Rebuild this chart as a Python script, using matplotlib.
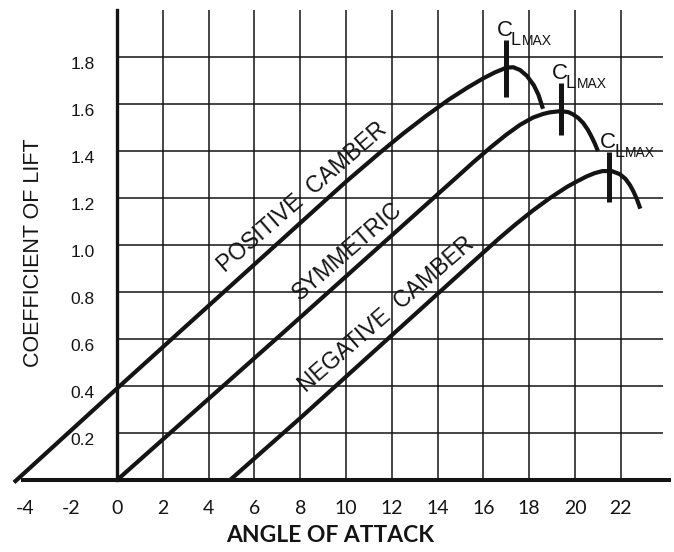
import matplotlib.pyplot as plt
from matplotlib import transforms

# lift curves (angle of attack in degrees, CL)
pos_alpha = [-4.5, 0.0, 5.0, 10.0, 11.5, 12.5, 13.5, 14.5, 15.3, 16.0, 16.5, 17.0, 17.3, 17.6, 17.9, 18.2, 18.4, 18.6]
pos_cl = [-0.01, 0.39, 0.83, 1.27, 1.395, 1.475, 1.55, 1.62, 1.67, 1.71, 1.735, 1.755, 1.757, 1.745, 1.72, 1.68, 1.64, 1.58]

sym_alpha = [0.0, 7.4, 14.1, 14.8, 15.55, 16.3, 17.0, 17.6, 18.17, 18.6, 18.9, 19.35, 19.7, 19.9, 20.15, 20.35, 20.55, 20.7, 20.85, 21.0]
sym_cl = [0.0, 0.64, 1.225, 1.286, 1.352, 1.415, 1.47, 1.512, 1.543, 1.558, 1.565, 1.57, 1.566, 1.557, 1.54, 1.52, 1.492, 1.465, 1.435, 1.40]

neg_alpha = [4.93, 8.0, 16.0, 16.7, 17.4, 18.17, 18.9, 19.65, 20.1, 20.5, 20.85, 21.2, 21.6, 21.95, 22.2, 22.4, 22.55, 22.7, 22.85]
neg_cl = [0.0, 0.264, 0.969, 1.03, 1.088, 1.148, 1.20, 1.248, 1.272, 1.292, 1.306, 1.315, 1.315, 1.302, 1.282, 1.255, 1.228, 1.195, 1.155]

# CL max markers
clmax_alpha = [17.0, 19.4, 21.5]
clmax_lo = [1.63, 1.468, 1.183]
clmax_hi = [1.872, 1.69, 1.396]

curve_names = ["POSITIVE  CAMBER", "SYMMETRIC", "NEGATIVE  CAMBER"]
name_pos = [(8.1, 1.205), (10.05, 0.975), (11.75, 0.705)]

x_ticks = [-4, -2, 0, 2, 4, 6, 8, 10, 12, 14, 16, 18, 20, 22]
y_ticks = [0.2, 0.4, 0.6, 0.8, 1.0, 1.2, 1.4, 1.6, 1.8]

ink = "#141414"
plt.rcParams['font.family'] = ['Liberation Sans', 'DejaVu Sans']

fig = plt.figure(figsize=(6.74, 5.52), dpi=100)
ax = fig.add_axes([0, 0, 1, 1])
ax.set_xlim(-5.11, 24.32)
ax.set_ylim(-0.306, 2.043)

for s in ['top', 'right']:
    ax.spines[s].set_visible(False)
ax.spines['left'].set_position(('data', 0))
ax.spines['left'].set_bounds(0, 2.0)
ax.spines['left'].set_linewidth(2.4)
ax.spines['left'].set_color(ink)
ax.spines['bottom'].set_position(('data', 0))
ax.spines['bottom'].set_bounds(-4.1, 24.1)
ax.spines['bottom'].set_linewidth(2.9)
ax.spines['bottom'].set_color(ink)

# grid only inside the first quadrant
ax.hlines(y_ticks, 0, 23.85, color=ink, lw=1.1, zorder=1)
ax.vlines([x for x in x_ticks if x > 0], 0, 2.0, color=ink, lw=1.1, zorder=1)

for a, c in [(pos_alpha, pos_cl), (sym_alpha, sym_cl), (neg_alpha, neg_cl)]:
    ax.plot(a, c, color=ink, lw=3.0, solid_capstyle='butt', solid_joinstyle='round', zorder=3)

ax.vlines(clmax_alpha, clmax_lo, clmax_hi, color=ink, lw=3.6, zorder=4)

for a, hi in zip(clmax_alpha, clmax_hi):
    ax.annotate("C", xy=(a, hi), xytext=(-7.0, 3.2), textcoords='offset points',
                ha='left', va='baseline', fontsize=16, color=ink)
    ax.annotate("L", xy=(a, hi), xytext=(3.3, -3.6), textcoords='offset points',
                ha='left', va='baseline', fontsize=13, color=ink)
    ax.annotate("MAX", xy=(a, hi), xytext=(11.2, -3.6), textcoords='offset points',
                ha='left', va='baseline', fontsize=10, color=ink)

for name, (tx, ty) in zip(curve_names, name_pos):
    ax.text(tx, ty, name, rotation=41, rotation_mode='anchor', ha='center', va='center',
            fontsize=16.5, color=ink)

ax.set_xticks(x_ticks)
ax.set_xticklabels([str(v) for v in x_ticks])
ax.set_yticks(y_ticks)
ax.set_yticklabels([f"{v:.1f}" for v in y_ticks])
ax.tick_params(axis='both', length=0, colors=ink)
ax.tick_params(axis='x', pad=14, labelsize=14)
ax.tick_params(axis='y', pad=16, labelsize=12.5)

for lab in ax.get_xticklabels():
    lab.set_fontfamily('Lato')
shift = transforms.ScaledTranslation(0, -0.06, fig.dpi_scale_trans)
for lab in ax.get_yticklabels():
    lab.set_transform(lab.get_transform() + shift)

fig.text(0.49, 0.029, "ANGLE OF ATTACK", ha='center', va='center', fontsize=16.5,
         fontweight='bold', family='Lato', color=ink)
fig.text(0.049, 0.543, "COEFFICIENT OF LIFT", rotation=90, ha='center', va='center',
         fontsize=15.5, color=ink)

fig.savefig("out.png", dpi=100, facecolor='white')
